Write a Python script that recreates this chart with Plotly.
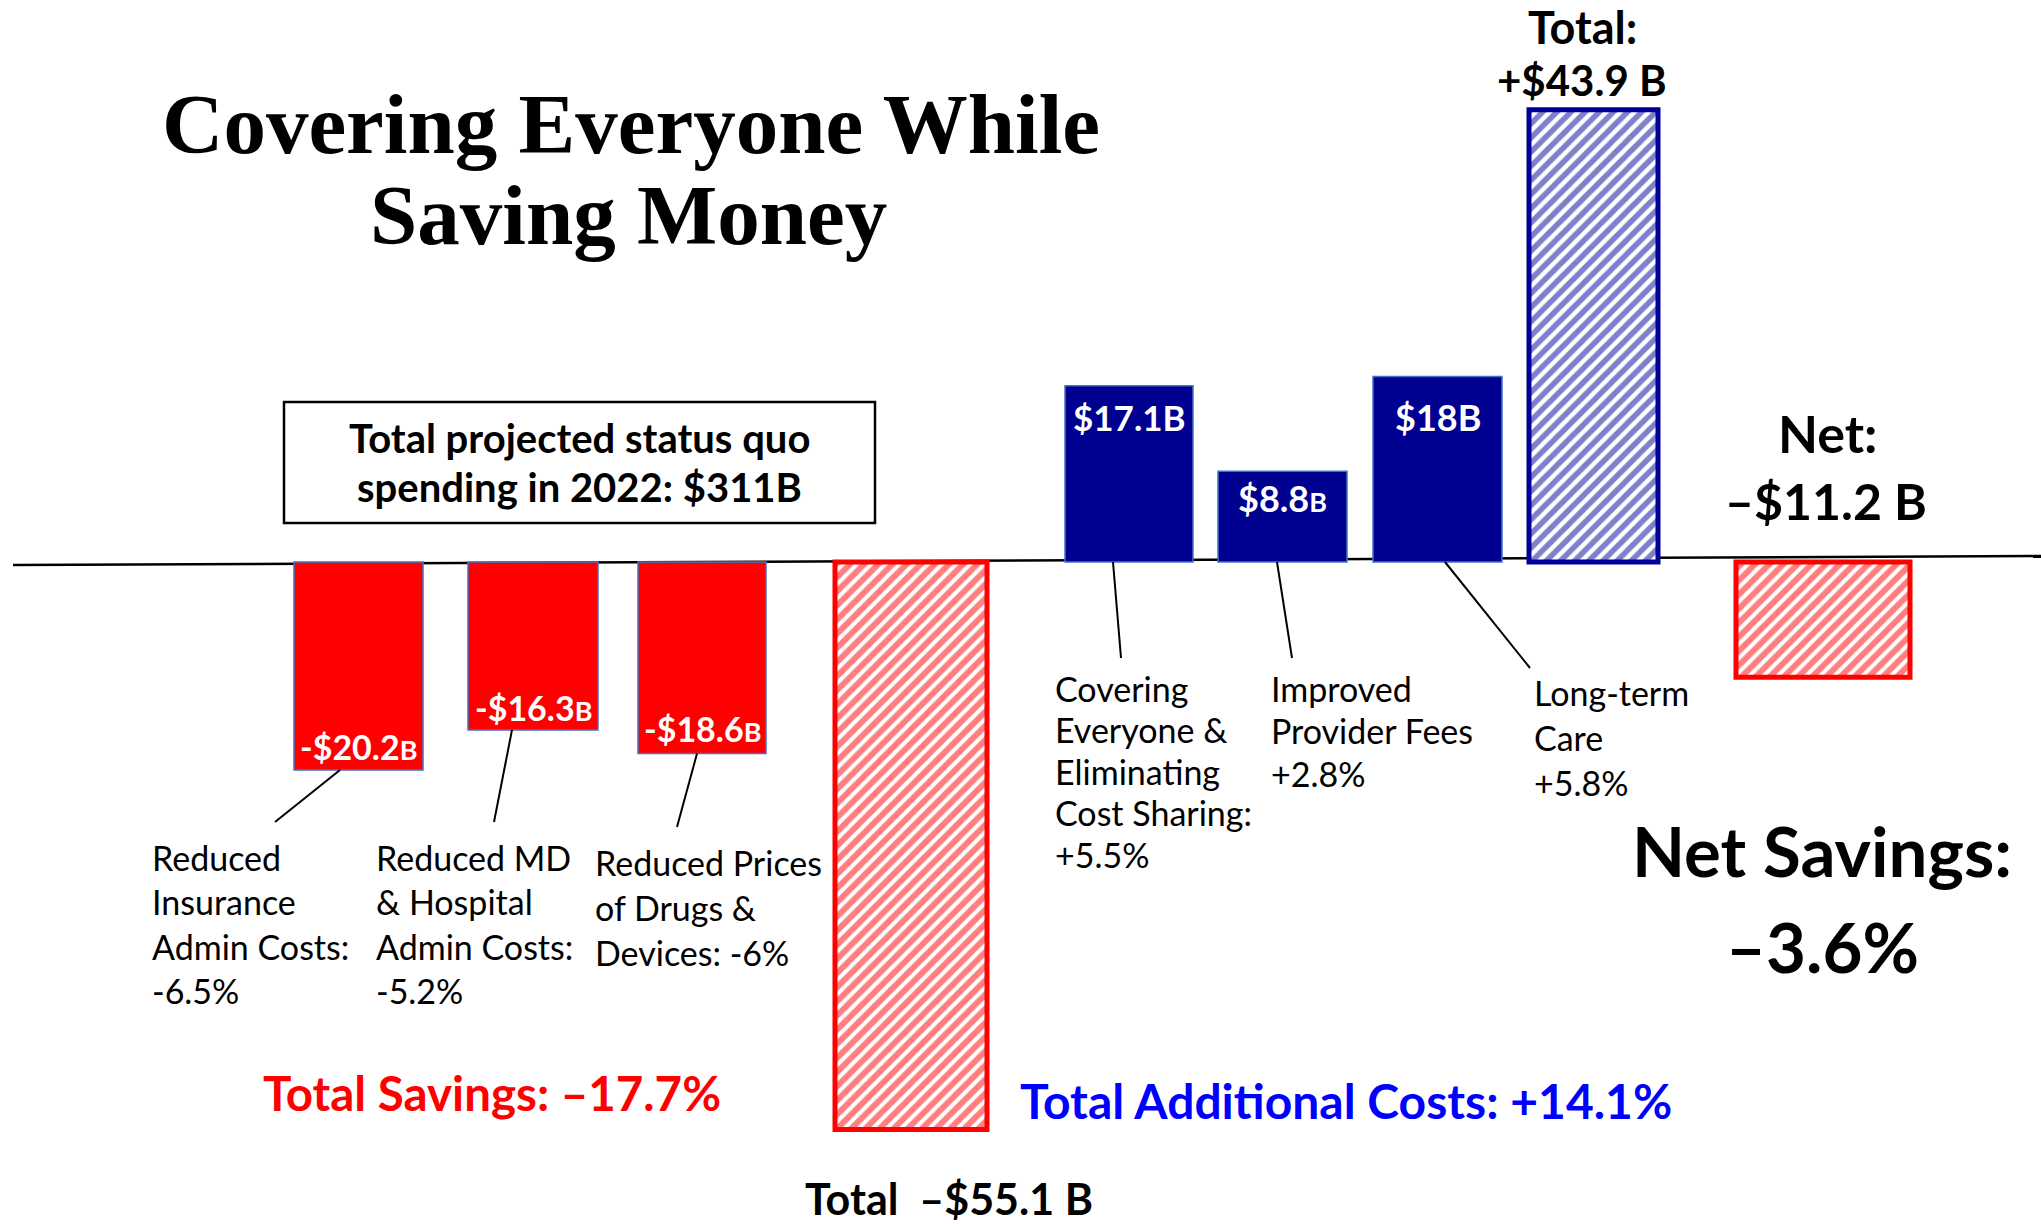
import plotly.graph_objects as go

# ---------------- data ----------------
categories = ["Reduced Insurance Admin Costs", "Reduced MD & Hospital Admin Costs",
              "Reduced Prices of Drugs & Devices", "Total Savings",
              "Covering Everyone & Eliminating Cost Sharing", "Improved Provider Fees",
              "Long-term Care", "Total Additional Costs", "Net"]
values_b = [-20.2, -16.3, -18.6, -55.1, 17.1, 8.8, 18.0, 43.9, -11.2]
value_num = ["-$20.2", "-$16.3", "-$18.6", None, "$17.1", "$8.8", "$18", None, None]
value_unit_small = [True, True, True, None, False, True, False, None, None]
bar_kind = ["save", "save", "save", "save_total", "cost", "cost", "cost", "cost_total", "net"]

label_lines = [
    ["Reduced", "Insurance", "Admin Costs:", "-6.5%"],
    ["Reduced MD", "& Hospital", "Admin Costs:", "-5.2%"],
    ["Reduced Prices", "of Drugs &", "Devices: -6%"],
    None,
    ["Covering", "Everyone &", "Eliminating", "Cost Sharing:", "+5.5%"],
    ["Improved", "Provider Fees", "+2.8%"],
    ["Long-term", "Care", "+5.8%"],
    None,
    None,
]
title_lines = ["Covering Everyone While", "Saving Money"]
box_lines = ["Total projected status quo", "spending in 2022: $311B"]
total_savings_text = "Total Savings: \u201317.7%"
total_costs_text = "Total Additional Costs: +14.1%"
total_save_bar_text = "Total  \u2013$55.1 B"
total_cost_bar_lines = ["Total:", "+$43.9 B"]
net_lines = ["Net:", "\u2013$11.2 B"]
net_savings_lines = ["Net Savings:", "\u20133.6%"]

# ---------------- layout geometry (pixels) ----------------
W, H = 2041, 1225
BASE = 562.0      # pixel row of zero
K = 10.3          # pixels per $B

def Y(px):
    return (BASE - px) / K

bar_center = [358.5, 533, 702, 911, 1129, 1282.5, 1437.5, 1593.5, 1823]
bar_width = [129, 130, 128, 152, 128, 129, 129, 129, 174]
val_shift = [24, 22, 25, None, -31, -27, -40, None, None]
val_size = [34, 34, 34, None, 35, 36, 36, None, None]

label_pos = [(150, 857, 44.5), (374, 857, 44.5), (593, 862, 45), None,
             (1053, 688, 41.5), (1269, 688, 42.5), (1532, 692, 45), None, None]
leader = [((340, None), (275, 822)), ((512, None), (494, 822)), ((697, None), (677, 827)), None,
          ((1113, None), (1121, 658)), ((1277, None), (1292, 658)), ((1445, None), (1530, 668)),
          None, None]

RED = "#FF0000"
NAVY = "#000090"
NAVY_HATCH = "#000099"
EDGE = "#4472C4"
FONT = "Lato"
SERIF = "Liberation Serif"

fig = go.Figure()

def idx(kind):
    return [i for i, k in enumerate(bar_kind) if k == kind]

def add_bars(ids, color, line_color, line_w, pattern=None):
    marker = dict(color=color, line=dict(color=line_color, width=line_w))
    if pattern:
        marker["pattern"] = pattern
    fig.add_trace(go.Bar(
        x=[bar_center[i] for i in ids],
        y=[values_b[i] for i in ids],
        width=[bar_width[i] for i in ids],
        marker=marker,
        hoverinfo="skip",
        showlegend=False,
    ))

add_bars(idx("save"), RED, EDGE, 1.5)
add_bars(idx("cost"), NAVY, EDGE, 1.5)
add_bars(idx("save_total") + idx("net"), "white", RED, 5,
         dict(shape="/", fgcolor=RED, bgcolor="white", size=10, solidity=0.6))
add_bars(idx("cost_total"), "white", NAVY_HATCH, 5,
         dict(shape="/", fgcolor=NAVY_HATCH, bgcolor="white", size=10, solidity=0.55))

shapes = []
# baseline (slightly tilted, as in the slide)
shapes.append(dict(type="line", xref="x", yref="y", x0=13, y0=Y(565), x1=W, y1=Y(556),
                   line=dict(color="black", width=2.5), layer="below"))
# box
shapes.append(dict(type="rect", xref="x", yref="y", x0=284, x1=875, y0=Y(402), y1=Y(523),
                   line=dict(color="black", width=2.5), fillcolor="white"))
# leader lines
for i, ld in enumerate(leader):
    if ld is None:
        continue
    (sx, _), (ex, ey) = ld
    shapes.append(dict(type="line", xref="x", yref="y", x0=sx, y0=min(values_b[i], 0),
                       x1=ex, y1=Y(ey), line=dict(color="black", width=2)))

ann = []

def text(x, ypx, s, size, color="black", bold=False, family=FONT, xanchor="center"):
    if bold:
        s = "<b>" + s + "</b>"
    ann.append(dict(x=x, y=Y(ypx), xref="x", yref="y", text=s, showarrow=False,
                    xanchor=xanchor, yanchor="middle",
                    font=dict(family=family, size=size, color=color)))

# title
text(631, 124, title_lines[0], 85, bold=True, family=SERIF)
text(628, 215, title_lines[1], 85, bold=True, family=SERIF)
# box text
text(579, 438, box_lines[0], 40, bold=True)
text(579, 487, box_lines[1], 40, bold=True)

# value labels inside bars
for i, v in enumerate(value_num):
    if v is None:
        continue
    unit = "<span style='font-size:27px'>B</span>" if value_unit_small[i] else "B"
    ann.append(dict(x=bar_center[i], y=values_b[i], xref="x", yref="y",
                    text="<b>" + v + unit + "</b>", showarrow=False,
                    xanchor="center", yanchor="middle", yshift=val_shift[i],
                    font=dict(family=FONT, size=val_size[i], color="white")))

# category labels
for i, lines in enumerate(label_lines):
    if lines is None:
        continue
    lx, ly, sp = label_pos[i]
    for j, ln in enumerate(lines):
        text(lx, ly + j * sp, ln, 34, xanchor="left")

# totals
text(492, 1092, total_savings_text, 47.5, color=RED, bold=True)
text(1346, 1100, total_costs_text, 48, color="#0000FF", bold=True)
text(949, 1198, total_save_bar_text, 43, bold=True)
text(1582, 27, total_cost_bar_lines[0], 45, bold=True)
text(1582, 80, total_cost_bar_lines[1], 42, bold=True)
text(1828, 433, net_lines[0], 52, bold=True)
text(1826, 501, net_lines[1], 50, bold=True)
text(1822, 850, net_savings_lines[0], 69, bold=True)
text(1822, 946, net_savings_lines[1], 69, bold=True)

fig.update_layout(
    width=W, height=H, autosize=False,
    margin=dict(l=0, r=0, t=0, b=0, pad=0),
    paper_bgcolor="white", plot_bgcolor="white",
    barmode="overlay",
    xaxis=dict(range=[0, W], visible=False, fixedrange=True),
    yaxis=dict(range=[Y(H), Y(0)], visible=False, fixedrange=True),
    shapes=shapes, annotations=ann, showlegend=False,
)

fig.write_html("out.html", config={"displayModeBar": False},
               post_script="document.body.style.margin='0px';document.body.style.overflow='hidden';")
